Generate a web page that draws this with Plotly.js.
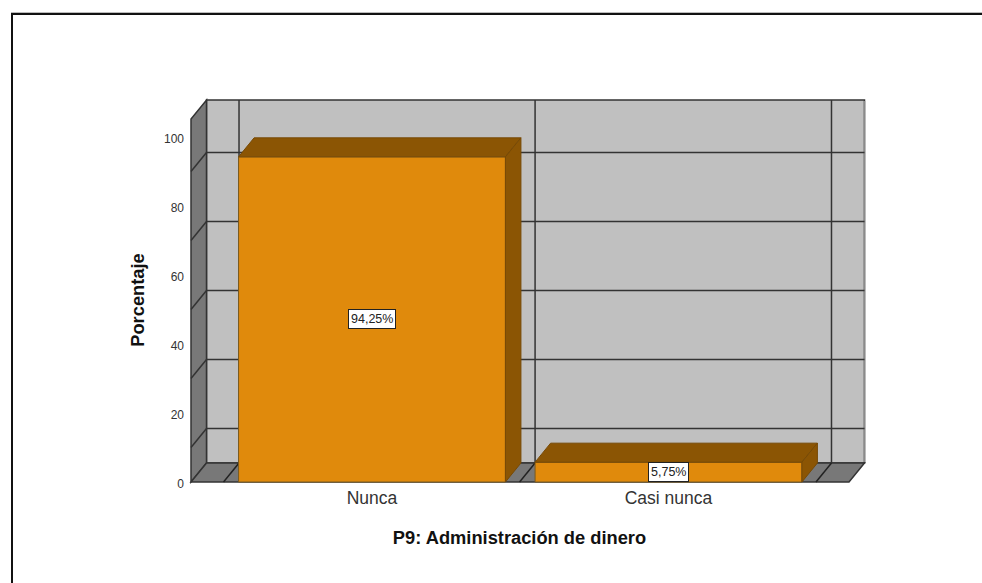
<!DOCTYPE html>
<html>
<head>
<meta charset="utf-8">
<script src="https://cdn.plot.ly/plotly-3.0.1.min.js"></script>
<style>
html,body{margin:0;padding:0;background:#fff;width:982px;height:583px;overflow:hidden}
#chart{position:absolute;left:0;top:0;width:982px;height:583px}
#frame{position:absolute;left:11px;top:13px;width:971px;height:570px;border-top:2px solid #111;border-left:2px solid #111;box-shadow:0 -1px 0 #bbb;box-sizing:border-box;pointer-events:none}
</style>
</head>
<body>
<div id="chart"></div>
<div id="frame"></div>
<script>
// Data
const categories = ["Nunca", "Casi nunca"];
const percentages = [94.25, 5.75];
const valueLabels = ["94,25%", "5,75%"];
const yTicks = [0, 20, 40, 60, 80, 100];
const backGridValues = [10, 30, 50, 70, 90];
const backVerticals = [-0.4485, 0.5500, 1.5497];

// Palette
const cFront = "#E08A0C", cDark = "#8B5504", cWall = "#C0C0C0", cSideWall = "#787878", cLine = "#333333", cEdge = "#774a06";

// Scales (px per unit) and pseudo-3D geometry
const pxX = 296.5, pxY = 3.45;
const x0px = 372, y0px = 482;
const plotL = 171, plotR = 868, plotT = 96, plotB = 504;
const depthX = 15.5 / pxX, depthY = 19 / pxY;
const barWidth = 0.9;
const floorL = (191 - x0px) / pxX, floorR = (849 - x0px) / pxX;
const wallTop = (y0px - 100 - 19) / pxY;

const line = (x0, y0, x1, y1, w, color) => ({type: "line", xref: "x", yref: "y", layer: "below", x0, y0, x1, y1, line: {color: color || cLine, width: w || 1.5}});
const poly = (pts, fill) => ({type: "path", xref: "x", yref: "y", layer: "below", path: "M" + pts.map(p => p.join(",")).join("L") + "Z", fillcolor: fill, line: {color: cLine, width: 1.5}});

const shapes = [];
// back wall
shapes.push(poly([[floorL + depthX, depthY], [floorR + depthX, depthY], [floorR + depthX, wallTop + depthY], [floorL + depthX, wallTop + depthY]], cWall));
shapes.push(line(floorR + depthX, depthY + 0.3, floorR + depthX, wallTop + depthY - 0.3, 1.5, "#8a8a8a"));
// left wall
shapes.push(poly([[floorL, 0], [floorL + depthX, depthY], [floorL + depthX, wallTop + depthY], [floorL, wallTop]], cSideWall));
// floor
shapes.push(poly([[floorL, 0], [floorR, 0], [floorR + depthX, depthY], [floorL + depthX, depthY]], cSideWall));
// grid lines on left and back walls
backGridValues.forEach(v => {
  shapes.push(line(floorL, v, floorL + depthX, v + depthY));
  shapes.push(line(floorL + depthX, v + depthY, floorR + depthX, v + depthY));
});
// vertical lines on the back wall and floor
backVerticals.forEach(x => {
  shapes.push(line(x, depthY, x, wallTop + depthY));
  shapes.push(line(x - depthX, 0, x, depthY, 1.5, "#222222"));
});

const traces = [];
// front faces
traces.push({type: "bar", x: [0, 1], y: percentages, width: barWidth, marker: {color: cFront, line: {color: "#7a5a1e", width: 1}}, hoverinfo: "skip", showlegend: false, cliponaxis: false});
// top and side faces
percentages.forEach((v, i) => {
  const l = i - barWidth / 2, r = i + barWidth / 2;
  traces.push({type: "scatter", mode: "lines", x: [l, r, r + depthX, l + depthX, l], y: [v, v, v + depthY, v + depthY, v], fill: "toself", fillcolor: cDark, line: {color: cEdge, width: 1}, hoverinfo: "skip", showlegend: false});
  traces.push({type: "scatter", mode: "lines", x: [r, r + depthX, r + depthX, r, r], y: [v, v + depthY, depthY, 0, v], fill: "toself", fillcolor: cDark, line: {color: cEdge, width: 1}, hoverinfo: "skip", showlegend: false});
});

const annotations = percentages.map((v, i) => ({
  x: i, y: v / 2, xref: "x", yref: "y", text: valueLabels[i], showarrow: false,
  font: {family: "Liberation Sans", size: 12.5, color: "#222"},
  bgcolor: "#fff", bordercolor: "#222", borderwidth: 1, borderpad: 2
}));

const layout = {
  width: 982, height: 583,
  margin: {l: plotL, r: 982 - plotR, t: plotT, b: 583 - plotB, pad: 0},
  paper_bgcolor: "#fff", plot_bgcolor: "rgba(0,0,0,0)",
  showlegend: false,
  shapes, annotations,
  xaxis: {
    range: [(plotL - x0px) / pxX, (plotR - x0px) / pxX],
    tickmode: "array", tickvals: [0, 1], ticktext: categories,
    showgrid: false, zeroline: false, showline: false, ticks: "",
    ticklabelstandoff: -19,
    tickfont: {family: "Liberation Sans", size: 17.5, color: "#333"},
    title: {text: "P9: Administración de dinero", font: {family: "Liberation Sans", size: 18.3, color: "#111", weight: "bold"}, standoff: 24},
    automargin: false
  },
  yaxis: {
    range: [(y0px - plotB) / pxY, (y0px - plotT) / pxY],
    tickmode: "array", tickvals: yTicks, ticktext: yTicks.map(String),
    showgrid: false, zeroline: false, showline: false, ticks: "",
    ticklabelstandoff: -14, ticklabelshift: 2,
    tickfont: {family: "Liberation Sans", size: 12, color: "#333"},
    title: {text: "Porcentaje", font: {family: "Liberation Sans", size: 18.3, color: "#111", weight: "bold"}, standoff: 14},
    automargin: false
  }
};
Plotly.newPlot("chart", traces, layout, {displayModeBar: false, staticPlot: true});
</script>
</body>
</html>
